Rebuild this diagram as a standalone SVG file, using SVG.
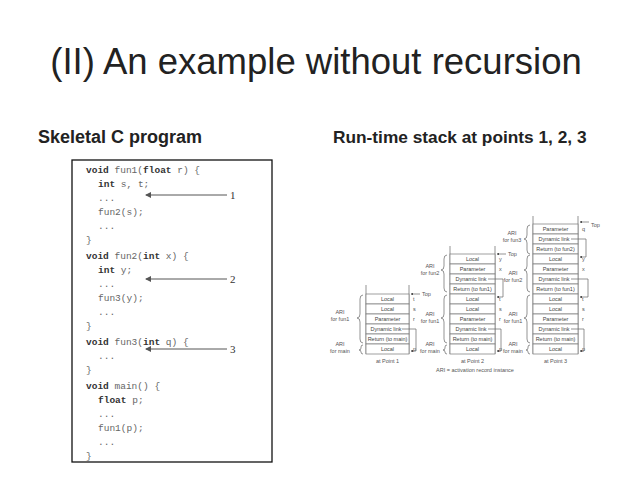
<svg xmlns="http://www.w3.org/2000/svg" width="638" height="479" viewBox="0 0 638 479">
<defs>
<marker id="ah" markerWidth="6" markerHeight="6" refX="5" refY="3" orient="auto"><path d="M0,0 L6,3 L0,6 z" fill="#555"/></marker>
<marker id="sa" markerWidth="4" markerHeight="4" refX="3.5" refY="2" orient="auto"><path d="M0,0 L4,2 L0,4 z" fill="#444"/></marker>
<style>
.t{font-family:"Liberation Sans",Arial,sans-serif;fill:#222}
.c{font-family:"Liberation Mono",monospace;font-size:9.5px;fill:#666}
.b{font-weight:bold;fill:#333}
.cell{fill:#fff;stroke:#777;stroke-width:0.7}
.ct{font-family:"Liberation Sans",Arial,sans-serif;font-size:5.5px;fill:#444;text-anchor:middle}
.lt{font-family:"Liberation Sans",Arial,sans-serif;font-size:5.5px;fill:#555}
.ln{stroke:#666;stroke-width:0.7;fill:none}
</style>
</defs>
<rect width="638" height="479" fill="#fff"/>
<text class="t" x="316" y="74" font-size="36.5" text-anchor="middle">(II) An example without recursion</text>
<text class="t" x="38" y="143" font-size="18" font-weight="bold">Skeletal C program</text>
<text class="t" x="333" y="143" font-size="17.3" font-weight="bold">Run-time stack at points 1, 2, 3</text>

<g id="code">
<rect x="72" y="160" width="200" height="302" fill="#fff" stroke="#111" stroke-width="1.3"/>
<text class="c" x="86" y="173"><tspan class="b">void</tspan> fun1(<tspan class="b">float</tspan> r) {</text>
<text class="c" x="98" y="187"><tspan class="b">int</tspan> s, t;</text>
<text class="c" x="98" y="201">...</text>
<text class="c" x="98" y="215">fun2(s);</text>
<text class="c" x="98" y="229">...</text>
<text class="c" x="86" y="243">}</text>
<text class="c" x="86" y="259"><tspan class="b">void</tspan> fun2(<tspan class="b">int</tspan> x) {</text>
<text class="c" x="98" y="273"><tspan class="b">int</tspan> y;</text>
<text class="c" x="98" y="287">...</text>
<text class="c" x="98" y="301">fun3(y);</text>
<text class="c" x="98" y="315">...</text>
<text class="c" x="86" y="329">}</text>
<text class="c" x="86" y="345"><tspan class="b">void</tspan> fun3(<tspan class="b">int</tspan> q) {</text>
<text class="c" x="98" y="359">...</text>
<text class="c" x="86" y="373">}</text>
<text class="c" x="86" y="389"><tspan class="b">void</tspan> main() {</text>
<text class="c" x="98" y="403"><tspan class="b">float</tspan> p;</text>
<text class="c" x="98" y="417">...</text>
<text class="c" x="98" y="431">fun1(p);</text>
<text class="c" x="98" y="445">...</text>
<text class="c" x="86" y="459">}</text>
<line x1="227" y1="195" x2="146" y2="195" stroke="#555" stroke-width="1" marker-end="url(#ah)"/>
<text x="230" y="199" font-family="Liberation Serif,serif" font-size="11" fill="#333">1</text>
<line x1="227" y1="279" x2="146" y2="279" stroke="#555" stroke-width="1" marker-end="url(#ah)"/>
<text x="230" y="283" font-family="Liberation Serif,serif" font-size="11" fill="#333">2</text>
<line x1="227" y1="349" x2="146" y2="349" stroke="#555" stroke-width="1" marker-end="url(#ah)"/>
<text x="230" y="353" font-family="Liberation Serif,serif" font-size="11" fill="#333">3</text>
</g>

<g id="stack1">
<line class="ln" x1="366" y1="285" x2="366" y2="354"/><line class="ln" x1="409" y1="285" x2="409" y2="354"/>
<rect class="cell" x="366" y="294" width="43" height="10"/><text class="ct" x="387.5" y="301">Local</text><text class="lt" x="413" y="301">t</text>
<rect class="cell" x="366" y="304" width="43" height="10"/><text class="ct" x="387.5" y="311">Local</text><text class="lt" x="413" y="311">s</text>
<rect class="cell" x="366" y="314" width="43" height="10"/><text class="ct" x="387.5" y="321">Parameter</text><text class="lt" x="413" y="321">r</text>
<rect class="cell" x="366" y="324" width="43" height="10"/><text class="ct" x="386" y="331">Dynamic link</text>
<rect class="cell" x="366" y="334" width="43" height="10"/><text class="ct" x="387.5" y="341">Return (to main)</text>
<rect class="cell" x="366" y="344" width="43" height="10"/><text class="ct" x="387.5" y="351">Local</text><text class="lt" x="413" y="351">p</text>
<path class="ln" d="M420,294 H411" marker-end="url(#sa)"/><text class="lt" x="422" y="296">Top</text>
<path class="ln" d="M402,329 H416 V351 H411" marker-end="url(#sa)"/>
<path class="ln" d="M363,295 q-3,0 -3,4 v15 q0,4 -3,4 q3,0 3,4 v17 q0,4 3,4"/>
<text class="lt" x="340" y="314" text-anchor="middle">ARI</text><text class="lt" x="340" y="321" text-anchor="middle">for fun1</text>
<path class="ln" d="M363,345 q-2,0 -2,2 v1 q0,2 -2,2 q2,0 2,2 v0 q0,2 2,2"/>
<text class="lt" x="340" y="346" text-anchor="middle">ARI</text><text class="lt" x="340" y="353" text-anchor="middle">for main</text>
<text class="lt" x="387.5" y="363" text-anchor="middle">at Point 1</text>
</g>

<g id="stack2">
<line class="ln" x1="450" y1="246" x2="450" y2="354"/><line class="ln" x1="495" y1="246" x2="495" y2="354"/>
<rect class="cell" x="450" y="254" width="45" height="10"/><text class="ct" x="472.5" y="261">Local</text><text class="lt" x="499" y="261">y</text>
<rect class="cell" x="450" y="264" width="45" height="10"/><text class="ct" x="472.5" y="271">Parameter</text><text class="lt" x="499" y="271">x</text>
<rect class="cell" x="450" y="274" width="45" height="10"/><text class="ct" x="471" y="281">Dynamic link</text>
<rect class="cell" x="450" y="284" width="45" height="10"/><text class="ct" x="472.5" y="291">Return (to fun1)</text>
<rect class="cell" x="450" y="294" width="45" height="10"/><text class="ct" x="472.5" y="301">Local</text><text class="lt" x="499" y="301">t</text>
<rect class="cell" x="450" y="304" width="45" height="10"/><text class="ct" x="472.5" y="311">Local</text><text class="lt" x="499" y="311">s</text>
<rect class="cell" x="450" y="314" width="45" height="10"/><text class="ct" x="472.5" y="321">Parameter</text><text class="lt" x="499" y="321">r</text>
<rect class="cell" x="450" y="324" width="45" height="10"/><text class="ct" x="471" y="331">Dynamic link</text>
<rect class="cell" x="450" y="334" width="45" height="10"/><text class="ct" x="472.5" y="341">Return (to main)</text>
<rect class="cell" x="450" y="344" width="45" height="10"/><text class="ct" x="472.5" y="351">Local</text><text class="lt" x="499" y="351">p</text>
<path class="ln" d="M506,254 H497" marker-end="url(#sa)"/><text class="lt" x="508" y="256">Top</text>
<path class="ln" d="M488,279 H503 V297 H497" marker-end="url(#sa)"/>
<path class="ln" d="M488,329 H501 V351 H497" marker-end="url(#sa)"/>
<path class="ln" d="M447,255 q-3,0 -3,4 v7 q0,4 -3,4 q3,0 3,4 v14 q0,4 3,4"/>
<text class="lt" x="430" y="268" text-anchor="middle">ARI</text><text class="lt" x="430" y="275" text-anchor="middle">for fun2</text>
<path class="ln" d="M447,295 q-3,0 -3,4 v15 q0,4 -3,4 q3,0 3,4 v17 q0,4 3,4"/>
<text class="lt" x="430" y="316" text-anchor="middle">ARI</text><text class="lt" x="430" y="323" text-anchor="middle">for fun1</text>
<path class="ln" d="M447,345 q-2,0 -2,2 v1 q0,2 -2,2 q2,0 2,2 v0 q0,2 2,2"/>
<text class="lt" x="430" y="346" text-anchor="middle">ARI</text><text class="lt" x="430" y="353" text-anchor="middle">for main</text>
<text class="lt" x="472.5" y="363" text-anchor="middle">at Point 2</text>
<text class="lt" x="475" y="372" text-anchor="middle">ARI = activation record instance</text>
</g>

<g id="stack3">
<line class="ln" x1="533" y1="216" x2="533" y2="354"/><line class="ln" x1="578" y1="216" x2="578" y2="354"/>
<rect class="cell" x="533" y="224" width="45" height="10"/><text class="ct" x="555.5" y="231">Parameter</text><text class="lt" x="582" y="231">q</text>
<rect class="cell" x="533" y="234" width="45" height="10"/><text class="ct" x="554" y="241">Dynamic link</text>
<rect class="cell" x="533" y="244" width="45" height="10"/><text class="ct" x="555.5" y="251">Return (to fun2)</text>
<rect class="cell" x="533" y="254" width="45" height="10"/><text class="ct" x="555.5" y="261">Local</text><text class="lt" x="582" y="261">y</text>
<rect class="cell" x="533" y="264" width="45" height="10"/><text class="ct" x="555.5" y="271">Parameter</text><text class="lt" x="582" y="271">x</text>
<rect class="cell" x="533" y="274" width="45" height="10"/><text class="ct" x="554" y="281">Dynamic link</text>
<rect class="cell" x="533" y="284" width="45" height="10"/><text class="ct" x="555.5" y="291">Return (to fun1)</text>
<rect class="cell" x="533" y="294" width="45" height="10"/><text class="ct" x="555.5" y="301">Local</text><text class="lt" x="582" y="301">t</text>
<rect class="cell" x="533" y="304" width="45" height="10"/><text class="ct" x="555.5" y="311">Local</text><text class="lt" x="582" y="311">s</text>
<rect class="cell" x="533" y="314" width="45" height="10"/><text class="ct" x="555.5" y="321">Parameter</text><text class="lt" x="582" y="321">r</text>
<rect class="cell" x="533" y="324" width="45" height="10"/><text class="ct" x="554" y="331">Dynamic link</text>
<rect class="cell" x="533" y="334" width="45" height="10"/><text class="ct" x="555.5" y="341">Return (to main)</text>
<rect class="cell" x="533" y="344" width="45" height="10"/><text class="ct" x="555.5" y="351">Local</text><text class="lt" x="582" y="351">p</text>
<path class="ln" d="M589,222 H580" marker-end="url(#sa)"/><text class="lt" x="591" y="227">Top</text>
<path class="ln" d="M571,239 H586 V257 H580" marker-end="url(#sa)"/>
<path class="ln" d="M571,279 H588 V297 H580" marker-end="url(#sa)"/>
<path class="ln" d="M571,329 H584 V351 H580" marker-end="url(#sa)"/>
<path class="ln" d="M530,225 q-3,0 -3,4 v6 q0,4 -3,4 q3,0 3,4 v7 q0,4 3,4"/>
<text class="lt" x="512" y="235" text-anchor="middle">ARI</text><text class="lt" x="512" y="242" text-anchor="middle">for fun3</text>
<path class="ln" d="M530,255 q-3,0 -3,4 v7 q0,4 -3,4 q3,0 3,4 v14 q0,4 3,4"/>
<text class="lt" x="513" y="275" text-anchor="middle">ARI</text><text class="lt" x="513" y="282" text-anchor="middle">for fun2</text>
<path class="ln" d="M530,295 q-3,0 -3,4 v15 q0,4 -3,4 q3,0 3,4 v17 q0,4 3,4"/>
<text class="lt" x="513" y="316" text-anchor="middle">ARI</text><text class="lt" x="513" y="323" text-anchor="middle">for fun1</text>
<path class="ln" d="M530,345 q-2,0 -2,2 v1 q0,2 -2,2 q2,0 2,2 v0 q0,2 2,2"/>
<text class="lt" x="513" y="346" text-anchor="middle">ARI</text><text class="lt" x="513" y="353" text-anchor="middle">for main</text>
<text class="lt" x="555.5" y="363" text-anchor="middle">at Point 3</text>
</g>
</svg>
